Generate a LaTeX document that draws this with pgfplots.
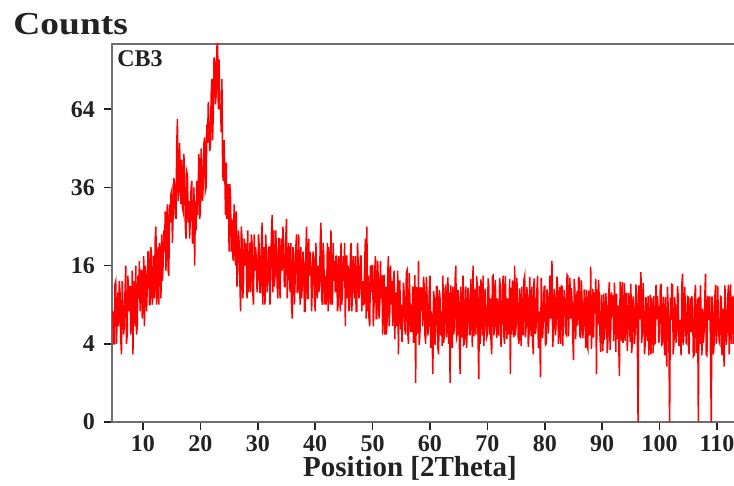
\documentclass[border=0pt]{standalone}
\usepackage{pgfplots}
\pgfplotsset{compat=1.18}
\usepackage{fontspec}
\setmainfont{Liberation Serif}
\definecolor{frame}{HTML}{6E6E6E}
\definecolor{ink}{HTML}{222222}
\definecolor{trace}{HTML}{FF0000}

\begin{document}
\begin{tikzpicture}
\begin{axis}[
  name=ax,
  at={(0,0)}, anchor=south west,
  scale only axis,
  width=313pt, height=189pt,
  xmin=4.6, xmax=113.66,
  ymin=0, ymax=93.5,
  % square-root intensity scale
  y coord trafo/.code={\pgfmathparse{sqrt(#1)}},
  y coord inv trafo/.code={\pgfmathparse{(#1)^2}},
  ytick={0,4,16,36,64},
  yticklabels={0,4,16,36,64},
  xtick={10,20,...,110},
  xtick pos=bottom, ytick pos=left,
  tick align=outside,
  major tick length=4pt,
  tick style={color=ink, line width=0.8pt},
  axis line style={draw=frame, line width=1.3pt},
  /pgf/number format/assume math mode=true,
  tick label style={font=\fontsize{12}{12}\selectfont\bfseries, color=ink},
  yticklabel style={xshift=-1pt},
  xticklabel style={yshift=0.8pt},
  xlabel={Position [2Theta]},
  xlabel style={at={(axis description cs:0.476,0)}, anchor=base, yshift=-27.5pt,
    font=\fontsize{14.5}{14.5}\selectfont\bfseries, color=ink, inner sep=0pt},
  clip=true,
]
\addplot[trace, line width=0.75pt, line join=miter] coordinates {
(4.75,8)(4.875,4)(5,4)(5.125,12.5)(5.25,13)(5.375,4)(5.5,7)(5.625,11)(5.75,6)(5.875,13)(6,11)(6.125,4.5)(6.25,3)(6.375,13)(6.5,9)(6.625,5)(6.75,6)(6.875,11.5)(7,16)(7.125,4)(7.25,5)(7.375,14)(7.5,8)(7.625,12)(7.75,12)(7.875,5)(8,7)(8.125,15)(8.25,3)(8.375,13)(8.5,11)(8.625,6)(8.75,16)(8.875,5)(9,6)(9.125,14)(9.25,10)(9.375,17)(9.5,8)(9.625,15)
(9.75,15)(9.875,7)(10,9)(10.125,18)(10.25,6)(10.375,16)(10.5,14)(10.625,8)(10.75,12)(10.875,19)(11,19)(11.125,9)(11.25,9)(11.375,20)(11.5,18)(11.625,9)(11.75,11)(11.875,18)(12,10)(12.125,22)(12.25,25)(12.375,9)(12.5,15)(12.625,20)(12.75,9)(12.875,21)(13,19)(13.125,10)(13.25,23)(13.375,13)(13.5,16)(13.625,24)(13.75,19)(13.875,29)(14,15)(14.125,27)(14.25,31)(14.375,15)(14.5,14)(14.625,31)
(14.75,26)(14.875,34)(15,35)(15.125,21)(15.25,28)(15.375,39)(15.5,37)(15.625,28)(15.75,27)(15.875,50)(16,60)(16.125,32)(16.25,35)(16.375,51)(16.5,38)(16.625,31)(16.75,45)(16.875,30)(17,29)(17.125,47)(17.25,39)(17.375,25)(17.5,22)(17.625,41)(17.75,40)(17.875,26)(18,32)(18.125,22)(18.25,27)(18.375,36)(18.5,38)(18.625,21)(18.75,21)(18.875,36)(19,16)(19.125,32)(19.25,24)(19.375,38)(19.5,28)(19.625,37)
(19.75,47)(19.875,27)(20,29)(20.125,49)(20.25,42)(20.375,32)(20.5,37)(20.625,51)(20.75,53)(20.875,35)(21,36)(21.125,58)(21.25,51)(21.375,67)(21.5,59)(21.625,48)(21.75,50)(21.875,70)(22,77)(22.125,52)(22.25,63)(22.375,87)(22.5,85)(22.625,66)(22.75,70)(22.875,92)(23,94)(23.125,64)(23.25,86)(23.375,64)(23.5,66)(23.625,55)(23.75,77)(23.875,40)(24,38)(24.125,52)(24.25,41)(24.375,28)(24.5,44)(24.625,27)
(24.75,29)(24.875,37)(25,19)(25.125,37)(25.25,33)(25.375,19)(25.5,27)(25.625,18)(25.75,17)(25.875,31)(26,21)(26.125,16)(26.25,29)(26.375,12)(26.5,16)(26.625,24)(26.75,21)(26.875,13)(27,8)(27.125,25)(27.25,22)(27.375,10)(27.5,12)(27.625,22)(27.75,16)(27.875,21)(28,19)(28.125,10)(28.25,24)(28.375,11)(28.5,13)(28.625,21)(28.75,11)(28.875,23)(29,21)(29.125,11)(29.25,9)(29.375,23)(29.5,15)(29.625,20)
(29.75,17)(29.875,11)(30,13)(30.125,23)(30.25,20)(30.375,11)(30.5,11)(30.625,20)(30.75,26)(30.875,9)(31,15)(31.125,20)(31.25,9)(31.375,23)(31.5,18)(31.625,11)(31.75,13)(31.875,20)(32,20)(32.125,9)(32.25,15)(32.375,23)(32.5,28)(32.625,11)(32.75,24)(32.875,12)(33,14)(33.125,24)(33.25,19)(33.375,12)(33.5,10)(33.625,22)(33.75,22)(33.875,10)(34,17)(34.125,22)(34.25,15)(34.375,25)(34.5,20)(34.625,12)
(34.75,12)(34.875,22)(35,27)(35.125,10)(35.25,14)(35.375,21)(35.5,16)(35.625,11)(35.75,21)(35.875,9)(36,7)(36.125,20)(36.25,18)(36.375,9)(36.5,13)(36.625,20)(36.75,23)(36.875,11)(37,11)(37.125,23)(37.25,15)(37.375,9)(37.5,20)(37.625,10)(37.75,12)(37.875,19)(38,17)(38.125,8)(38.25,8)(38.375,19)(38.5,25)(38.625,10)(38.75,10)(38.875,22)(39,14)(39.125,19)(39.25,16)(39.375,8)(39.5,12)(39.625,19)
(39.75,18)(39.875,10)(40,8)(40.125,21)(40.25,14)(40.375,10)(40.5,16)(40.625,11)(40.75,12)(40.875,21)(41,26)(41.125,10)(41.25,9)(41.375,21)(41.5,18)(41.625,9)(41.75,14)(41.875,9)(42,11)(42.125,21)(42.25,8)(42.375,20)(42.5,16)(42.625,9)(42.75,24)(42.875,10)(43,9)(43.125,21)(43.25,13)(43.375,17)(43.5,11)(43.625,18)(43.75,18)(43.875,8)(44,9)(44.125,18)(44.25,16)(44.375,8)(44.5,21)(44.625,9)
(44.75,11)(44.875,18)(45,13)(45.125,21)(45.25,6)(45.375,18)(45.5,18)(45.625,10)(45.75,16)(45.875,8)(46,9)(46.125,18)(46.25,21)(46.375,8)(46.5,11)(46.625,18)(46.75,14)(46.875,10)(47,18)(47.125,8)(47.25,8)(47.375,21)(47.5,16)(47.625,10)(47.75,11)(47.875,18)(48,18)(48.125,8)(48.25,13)(48.375,9)(48.5,9)(48.625,17)(48.75,22)(48.875,7)(49,25)(49.125,8)(49.25,14)(49.375,7)(49.5,6)(49.625,16)
(49.75,11)(49.875,16)(50,16)(50.125,6)(50.25,9)(50.375,15)(50.5,18)(50.625,7)(50.75,7)(50.875,17)(51,13)(51.125,7)(51.25,9)(51.375,17)(51.5,10)(51.625,14)(51.75,5)(51.875,14)(52,14)(52.125,5)(52.25,12)(52.375,5)(52.5,6)(52.625,14)(52.75,18)(52.875,6)(53,8)(53.125,16)(53.25,9)(53.375,13)(53.5,6)(53.625,13)(53.75,15)(53.875,4.5)(54,11)(54.125,6)(54.25,7)(54.375,15)(54.5,3)(54.625,13)
(54.75,13)(54.875,5.6)(55,9)(55.125,4.2)(55.25,7)(55.375,12.7)(55.5,11)(55.625,5.6)(55.75,5)(55.875,14.5)(56,15)(56.125,5.3)(56.25,4)(56.375,14.5)(56.5,10)(56.625,5.3)(56.75,9)(56.875,5.3)(57,12)(57.125,4.1)(57.25,7)(57.375,14.1)(57.5,1)(57.625,11.9)(57.75,10)(57.875,5.1)(58,17)(58.125,3.9)(58.25,5)(58.375,11.9)(58.5,8)(58.625,11.8)(58.75,6)(58.875,13.8)(59,12)(59.125,4.9)(59.25,4)(59.375,13.8)(59.5,10)(59.625,4.9)
(59.75,6)(59.875,11.6)(60,14)(60.125,3.6)(60.25,8)(60.375,4.8)(60.5,1.5)(60.625,11.2)(60.75,10)(60.875,3.9)(61,6)(61.125,12.0)(61.25,12)(61.375,3.6)(61.5,3)(61.625,11.4)(61.75,10)(61.875,4.9)(62,8)(62.125,3.8)(62.25,14)(62.375,4.1)(62.5,5)(62.625,11.6)(62.75,12)(62.875,4.7)(63,6)(63.125,13.7)(63.25,4)(63.375,11.0)(63.5,1)(63.625,12.2)(63.75,8)(63.875,3.6)(64,12)(64.125,5.0)(64.25,6)(64.375,13.2)(64.5,16)(64.625,4.6)
(64.75,5)(64.875,11.4)(65,10)(65.125,3.8)(65.25,1.5)(65.375,12.0)(65.5,8)(65.625,4.6)(65.75,14)(65.875,3.9)(66,4)(66.125,11.2)(66.25,12)(66.375,3.6)(66.5,6)(66.625,11.8)(66.75,10)(66.875,5.0)(67,5)(67.125,13.4)(67.25,8)(67.375,3.7)(67.5,16)(67.625,4.8)(67.75,6)(67.875,11.5)(68,5)(68.125,13.9)(68.25,12)(68.375,4.5)(68.5,1.2)(68.625,12.1)(68.75,4)(68.875,13.3)(69,10)(69.125,4.9)(69.25,14)(69.375,3.8)(69.5,6)(69.625,11.6)
(69.75,8)(69.875,4.7)(70,5)(70.125,13.5)(70.25,12)(70.375,5.0)(70.5,10)(70.625,4.4)(70.75,3)(70.875,13.8)(71,14)(71.125,4.9)(71.25,6)(71.375,13.2)(71.5,8)(71.625,4.6)(71.75,10)(71.875,5.1)(72,5)(72.125,13.6)(72.25,12)(72.375,3.7)(72.5,6)(72.625,11.5)(72.75,14)(72.875,4.8)(73,4)(73.125,13.9)(73.25,8)(73.375,4.5)(73.5,10)(73.625,5.0)(73.75,6)(73.875,13.4)(74,1.5)(74.125,11.8)(74.25,5)(74.375,13.1)(74.5,8)(74.625,4.7)
(74.75,16)(74.875,4.9)(75,6)(75.125,13.6)(75.25,10)(75.375,4.6)(75.5,4)(75.625,11.7)(75.75,8)(75.875,3.8)(76,12)(76.125,5.0)(76.25,5)(76.375,13.3)(76.5,14)(76.625,4.7)(76.75,6)(76.875,11.9)(77,10)(77.125,3.7)(77.25,5)(77.375,13.8)(77.5,8)(77.625,4.8)(77.75,12)(77.875,4.5)(78,3)(78.125,13.5)(78.25,10)(78.375,5.1)(78.5,6)(78.625,11.4)(78.75,14)(78.875,3.6)(79,8)(79.125,4.9)(79.25,1.3)(79.375,13.6)(79.5,10)(79.625,4.6)
(79.75,7)(79.875,11.9)(80,12)(80.125,3.9)(80.25,4)(80.375,11.5)(80.5,10)(80.625,5.1)(80.75,8)(80.875,14.0)(81,7)(81.125,12.2)(81.25,17)(81.375,3.7)(81.5,5)(81.625,11.6)(81.75,10)(81.875,4.9)(82,7)(82.125,13.8)(82.25,12)(82.375,4.0)(82.5,8)(82.625,11.9)(82.75,4)(82.875,12.1)(83,12)(83.125,3.8)(83.25,7)(83.375,11.4)(83.5,10)(83.625,5.2)(83.75,5)(83.875,14.2)(84,14)(84.125,4.8)(84.25,8)(84.375,13.6)(84.5,7)(84.625,11.7)
(84.75,9.4)(84.875,4.7)(85,2.5)(85.125,13.4)(85.25,11.4)(85.375,4.5)(85.5,7.7)(85.625,11.2)(85.75,6.1)(85.875,13.6)(86,13.5)(86.125,4.8)(86.25,4.7)(86.375,13.1)(86.5,9.4)(86.625,4.6)(86.75,6.1)(86.875,11.5)(87,7.7)(87.125,3.6)(87.25,11.4)(87.375,3.8)(87.5,3.5)(87.625,11.3)(87.75,9.4)(87.875,4.9)(88,15.8)(88.125,3.5)(88.25,6.1)(88.375,11.6)(88.5,4.7)(88.625,11.0)(88.75,7.7)(88.875,13.4)(89,1.5)(89.125,11.5)(89.25,6.1)(89.375,13.2)(89.5,9.4)(89.625,4.6)
(89.75,3.2)(89.875,10.6)(90,7.2)(90.125,3.3)(90.25,10.8)(90.375,4.4)(90.5,5.7)(90.625,10.9)(90.75,8.9)(90.875,3.1)(91,4.3)(91.125,10.7)(91.25,12.8)(91.375,3.4)(91.5,5.7)(91.625,11.0)(91.75,7.2)(91.875,10.5)(92,4.3)(92.125,12.7)(92.25,8.9)(92.375,3.2)(92.5,10.8)(92.625,4.5)(92.75,8.9)(92.875,4.2)(93,1.4)(93.125,12.9)(93.25,7.2)(93.375,4.3)(93.5,12.8)(93.625,4.1)(93.75,5.7)(93.875,12.6)(94,4.3)(94.125,10.8)(94.25,10.8)(94.375,3.3)(94.5,5.7)(94.625,10.9)
(94.75,6.9)(94.875,4.2)(95,12.5)(95.125,3.1)(95.25,4.1)(95.375,10.3)(95.5,8.6)(95.625,4.0)(95.75,5.4)(95.875,12.4)(96,10.4)(96.125,4.2)(96.25,0)(96.375,12.2)(96.5,6.9)(96.625,10.5)(96.75,14.7)(96.875,4.1)(97,5.4)(97.125,12.6)(97.25,8.6)(97.375,3.0)(97.5,4.1)(97.625,10.2)(97.75,6.9)(97.875,4.3)(98,10.4)(98.125,2.9)(98.25,5.4)(98.375,10.6)(98.5,3.0)(98.625,10.1)(98.75,8.6)(98.875,3.1)(99,10.4)(99.125,4.0)(99.25,4.1)(99.375,12.3)(99.5,6.9)(99.625,10.4)
(99.75,8.4)(99.875,4.1)(100,5.3)(100.125,12.2)(100.25,12.3)(100.375,3.9)(100.5,4.0)(100.625,10.3)(100.75,6.8)(100.875,2.9)(101,10.2)(101.125,4.2)(101.25,2.0)(101.375,12.0)(101.5,8.4)(101.625,4.0)(101.75,0)(101.875,10.1)(102,6.8)(102.125,12.4)(102.25,12.3)(102.375,3.0)(102.5,4.0)(102.625,10.2)(102.75,8.4)(102.875,4.1)(103,5.3)(103.125,12.1)(103.25,10.2)(103.375,3.8)(103.5,6.8)(103.625,4.2)(103.75,2.9)(103.875,12.3)(104,14.4)(104.125,3.9)(104.25,5.3)(104.375,12.0)(104.5,8.4)(104.625,4.1)
(104.75,4.0)(104.875,10.3)(105,10.2)(105.125,3.0)(105.25,6.8)(105.375,10.1)(105.5,5.3)(105.625,10.4)(105.75,8.4)(105.875,2.8)(106,2.9)(106.125,10.2)(106.25,12.3)(106.375,3.1)(106.5,5.3)(106.625,10.0)(106.75,0)(106.875,10.3)(107,4.0)(107.125,12.2)(107.25,6.8)(107.375,2.9)(107.5,8.4)(107.625,4.1)(107.75,5.3)(107.875,10.2)(108,14.4)(108.125,3.0)(108.25,2.9)(108.375,10.4)(108.5,6.8)(108.625,10.1)(108.75,10.2)(108.875,2.9)(109,0)(109.125,10.3)(109.25,8.4)(109.375,3.0)(109.5,4.0)(109.625,10.2)
(109.75,12.3)(109.875,4.0)(110,5.3)(110.125,12.1)(110.25,6.8)(110.375,4.2)(110.5,4.0)(110.625,10.3)(110.75,10.2)(110.875,2.9)(111,8.4)(111.125,4.1)(111.25,2.0)(111.375,12.2)(111.5,8.4)(111.625,3.9)(111.75,5.3)(111.875,10.2)(112,12.3)(112.125,3.0)(112.25,6.8)(112.375,12.4)(112.5,4.0)(112.625,10.1)(112.75,10.2)(112.875,4.0)(113,5.3)(113.125,12.2)(113.25,8.4)(113.375,4.1)(113.5,2.9)
};
\end{axis}
% sample name inside the frame and the intensity caption above it
\node[anchor=base west, inner sep=0pt, font=\fontsize{12}{12}\selectfont\bfseries, text=ink]
  at ([xshift=2.5pt,yshift=-11.5pt]ax.north west) {CB3};
\node[anchor=base west, inner sep=0pt, xscale=1.17, transform shape,
  font=\fontsize{16}{16}\selectfont\bfseries, text=ink]
  at ([xshift=-49.5pt,yshift=4.5pt]ax.north west) {Counts};
% page area: the frame runs on past the right edge
\pgfresetboundingbox
\path[use as bounding box] (ax.south west) ++(-56pt,-32pt) rectangle ++(367pt,243pt);
\end{tikzpicture}
\end{document}
